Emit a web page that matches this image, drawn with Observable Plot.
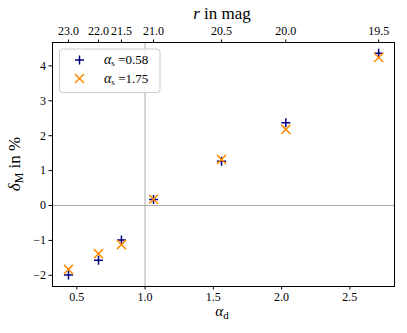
<!DOCTYPE html>
<html><head><meta charset="utf-8">
<script src="https://cdn.jsdelivr.net/npm/d3@7"></script>
<script src="https://cdn.jsdelivr.net/npm/@observablehq/plot@0.6"></script>
<style>html,body{margin:0;padding:0;background:#fff} #chart svg{display:block}</style>
</head><body><div id="chart"></div>
<script>
// alpha_d of each magnitude bin (also the positions of the top-axis ticks)
const alphaD = [0.439, 0.659, 0.827, 1.062, 1.560, 2.031, 2.711];
// r magnitude labels on top axis
const rMag = ["23.0", "22.0", "21.5", "21.0", "20.5", "20.0", "19.5"];
// delta_M in % for alpha_s = 0.58
const deltaLow = [-1.99, -1.57, -0.99, 0.17, 1.27, 2.37, 4.36];
// delta_M in % for alpha_s = 1.75
const deltaHigh = [-1.83, -1.38, -1.12, 0.18, 1.32, 2.18, 4.24];
const xTicks = [0.5, 1.0, 1.5, 2.0, 2.5];
const yTicks = [-2, -1, 0, 1, 2, 3, 4];
const seriesLabels = ["0.58", "1.75"];

const rows = alphaD.map((a, i) => ({a, low: deltaLow[i], high: deltaHigh[i]}));
const FONT = "Liberation Serif, serif";
const NAVY = "#000080", ORANGE = "#ff8c00";

const plot = Plot.plot({
  width: 407, height: 333,
  marginLeft: 52, marginRight: 13, marginTop: 42, marginBottom: 47,
  style: {fontFamily: FONT, fontSize: "12px", background: "white", color: "black"},
  x: {domain: [0.322, 2.827]},
  y: {domain: [-2.32, 4.67]},
  marks: [
    Plot.ruleX([1], {stroke: "#aaaaaa", strokeWidth: 1}),
    Plot.ruleY([0], {stroke: "#aaaaaa", strokeWidth: 1}),
    Plot.axisX(xTicks, {anchor: "bottom", tickSize: 3.5, tickPadding: 2, tickFormat: d3.format(".1f"), label: null}),
    Plot.axisX(alphaD, {anchor: "top", tickSize: 3.5, tickPadding: 4, tickFormat: d => rMag[alphaD.indexOf(d)], label: null}),
    Plot.axisY(yTicks, {anchor: "left", tickSize: 3.5, tickPadding: 3, tickFormat: d => d < 0 ? "\u2212" + (-d) : String(d), label: null}),
    Plot.dot(rows, {x: "a", y: "low", symbol: "plus", r: 3, stroke: NAVY, strokeWidth: 1.5}),
    Plot.dot(rows, {x: "a", y: "high", symbol: "times", r: 4.2, stroke: ORANGE, strokeWidth: 1.5}),
    Plot.frame({stroke: "black", strokeWidth: 1})
  ]
});
document.getElementById("chart").appendChild(plot);

const svg = d3.select(plot);
// axis titles
const topTitle = svg.append("text").attr("x", 222).attr("y", 19).attr("text-anchor", "middle")
  .attr("font-size", 17);
topTitle.append("tspan").attr("font-style", "italic").text("r");
topTitle.append("tspan").text(" in mag");

const botTitle = svg.append("text").attr("x", 222).attr("y", 315.5).attr("text-anchor", "middle")
  .attr("font-size", 15);
botTitle.append("tspan").attr("font-style", "italic").text("α");
botTitle.append("tspan").attr("font-size", 11).attr("dy", 3).text("d");

const yTitle = svg.append("text").attr("transform", "translate(20,164) rotate(-90)").attr("text-anchor", "middle")
  .attr("font-size", 17);
yTitle.append("tspan").attr("font-style", "italic").text("δ");
yTitle.append("tspan").attr("font-size", 12).attr("dy", 3).text("M");
yTitle.append("tspan").attr("dy", -3).text(" in %");

// legend
const lg = svg.append("g");
lg.append("rect").attr("x", 59.5).attr("y", 49).attr("width", 100.5).attr("height", 43.5).attr("rx", 3)
  .attr("fill", "white").attr("fill-opacity", 0.8).attr("stroke", "#cccccc").attr("stroke-width", 1);
const sym = [d3.symbolPlus, d3.symbolTimes];
const sizes = [Math.PI * 9, Math.PI * 4.2 * 4.2];
const cols = [NAVY, ORANGE];
[0, 1].forEach(i => {
  const cy = 60 + i * 18.5;
  lg.append("path").attr("transform", `translate(79.5,${cy})`).attr("d", d3.symbol(sym[i], sizes[i])())
    .attr("fill", "none").attr("stroke", cols[i]).attr("stroke-width", 1.5);
  const t = lg.append("text").attr("x", 104).attr("y", cy + 4).attr("font-size", 13).attr("text-anchor", "start");
  t.append("tspan").attr("font-style", "italic").attr("font-size", 14).text("α");
  t.append("tspan").attr("font-size", 9).attr("dy", 2).text("s");
  t.append("tspan").attr("dy", -2).text(" =" + seriesLabels[i]);
});
svg.selectAll("text").attr("font-family", FONT).style("font-family", FONT);
</script>
</body></html>
